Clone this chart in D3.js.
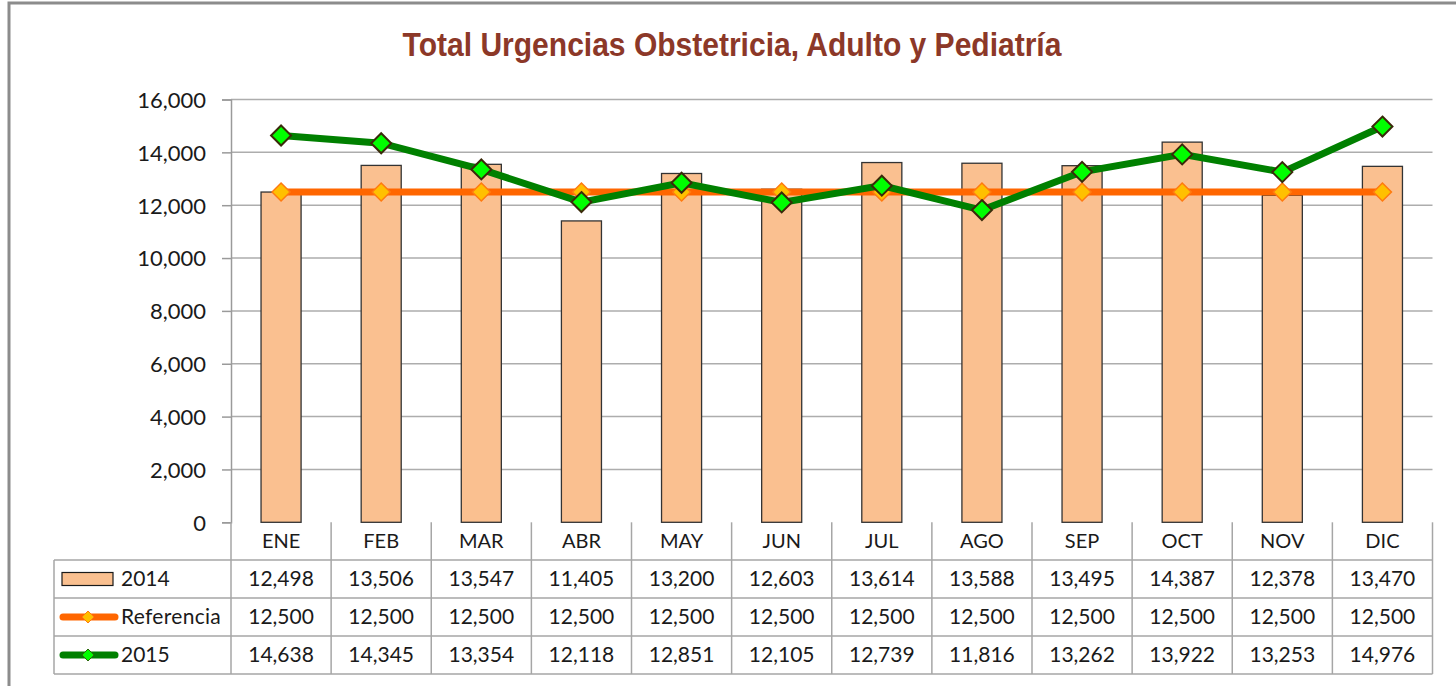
<!DOCTYPE html>
<html>
<head>
<meta charset="utf-8">
<script src="https://cdn.jsdelivr.net/npm/d3@7"></script>
<style>
  html, body { margin: 0; padding: 0; background: #fff; }
  svg { display: block; }
  text { font-family: Lato, "Open Sans", sans-serif; fill: #1a1a1a; }
</style>
</head>
<body>
<svg id="chart" width="1456" height="686"></svg>
<script>
const title = "Total Urgencias Obstetricia, Adulto y Pediatría";
const months = ["ENE","FEB","MAR","ABR","MAY","JUN","JUL","AGO","SEP","OCT","NOV","DIC"];
const values2014 = [12498,13506,13547,11405,13200,12603,13614,13588,13495,14387,12378,13470];
const valuesRef  = [12500,12500,12500,12500,12500,12500,12500,12500,12500,12500,12500,12500];
const values2015 = [14638,14345,13354,12118,12851,12105,12739,11816,13262,13922,13253,14976];
const yTicks = [0,2000,4000,6000,8000,10000,12000,14000,16000];
const seriesNames = ["2014","Referencia","2015"];

const svg = d3.select("#chart");
const fmt = d3.format(",");

const L = 231, R = 1432.5, T = 99.5, B = 522.3;
const x = d3.scaleBand().domain(months).range([L, R]).paddingInner(0).paddingOuter(0);
const y = d3.scaleLinear().domain([0, 16000]).range([B, T]);

// outer frame
svg.append("rect").attr("x", 9).attr("y", 3).attr("width", 1470).attr("height", 700)
  .attr("fill", "none").attr("stroke", "#8c8c8c").attr("stroke-width", 3);

// title (condensed bold)
const tt = svg.append("text").attr("x", 0).attr("y", 0).attr("text-anchor", "middle")
  .style("font-family", "'Liberation Sans', Arial, sans-serif")
  .style("font-weight", "bold").style("font-size", "34px").style("fill", "#8c3828")
  .text(title);
const tw = tt.node().getComputedTextLength();
const sx = 659 / tw;
tt.attr("transform", `translate(732,56) scale(${sx},1)`);

// gridlines
svg.append("g").selectAll("line").data(yTicks.filter(d => d > 0)).join("line")
  .attr("x1", L).attr("x2", R).attr("y1", d => y(d)).attr("y2", d => y(d))
  .attr("stroke", "#adadad").attr("stroke-width", 1.5);

// y axis
const yAxis = d3.axisLeft(y).tickValues(yTicks).tickFormat(fmt).tickSize(9).tickPadding(16);
const ga = svg.append("g").attr("transform", `translate(${L},0)`).call(yAxis);
ga.select(".domain").attr("stroke", "#9a9a9a").attr("stroke-width", 1.5);
ga.selectAll(".tick line").attr("stroke", "#9a9a9a").attr("stroke-width", 1.5);
ga.selectAll(".tick text").style("font-size", "22px").style("font-family", "Lato, sans-serif").attr("fill", "#1a1a1a").attr("dy", "0.36em");

// bars
const bw = x.bandwidth() * 0.4;
svg.append("g").selectAll("rect").data(values2014).join("rect")
  .attr("x", (d, i) => x(months[i]) + x.bandwidth() / 2 - bw / 2)
  .attr("y", d => y(d)).attr("width", bw).attr("height", d => y(0) - y(d))
  .attr("fill", "#fac090").attr("stroke", "#333333").attr("stroke-width", 1.3);

const cx = i => x(months[i]) + x.bandwidth() / 2;
const line = d3.line().x((d, i) => cx(i)).y(d => y(d));
const diamond = (s) => `M0,${-s}L${s},0L0,${s}L${-s},0Z`;

// reference
svg.append("path").datum(valuesRef).attr("d", line).attr("fill", "none")
  .attr("stroke", "#ff6600").attr("stroke-width", 7);
svg.append("g").selectAll("path").data(valuesRef).join("path")
  .attr("transform", (d, i) => `translate(${cx(i)},${y(d)})`).attr("d", diamond(9))
  .attr("fill", "#ffc000").attr("stroke", "#ff7a10").attr("stroke-width", 1.5);

// 2015
svg.append("path").datum(values2015).attr("d", line).attr("fill", "none")
  .attr("stroke", "#008000").attr("stroke-width", 7);
svg.append("g").selectAll("path").data(values2015).join("path")
  .attr("transform", (d, i) => `translate(${cx(i)},${y(d)})`).attr("d", diamond(10))
  .attr("fill", "#00ff00").attr("stroke", "#3a2a0a").attr("stroke-width", 2);

// data table
const rowY = [522.3, 560, 598, 636, 674];
const tL = 54;
const tg = svg.append("g");
const gridC = "#a6a6a6";
[1, 2, 3, 4].forEach(r => {
  tg.append("line").attr("x1", tL).attr("x2", R).attr("y1", rowY[r]).attr("y2", rowY[r]);
});
tg.append("line").attr("x1", tL).attr("x2", tL).attr("y1", rowY[1]).attr("y2", rowY[4]);
tg.selectAll("line.v").data(months.concat(["end"])).join("line").attr("class", "v")
  .attr("x1", (d, i) => L + i * x.bandwidth()).attr("x2", (d, i) => L + i * x.bandwidth())
  .attr("y1", rowY[0]).attr("y2", rowY[4]);
tg.selectAll("line").attr("stroke", gridC).attr("stroke-width", 1.5);

// header
svg.append("g").selectAll("text").data(months).join("text")
  .attr("x", d => x(d) + x.bandwidth() / 2).attr("y", (rowY[0] + rowY[1]) / 2 + 7)
  .attr("text-anchor", "middle").style("font-size", "20px").text(d => d);

const rows = [values2014, valuesRef, values2015];
rows.forEach((vals, r) => {
  svg.append("g").selectAll("text").data(vals).join("text")
    .attr("x", (d, i) => cx(i)).attr("y", (rowY[r + 1] + rowY[r + 2]) / 2 + 7)
    .attr("text-anchor", "middle").style("font-size", "21px").text(d => fmt(d));
});

// legend keys
const lg = svg.append("g");
const midY = r => (rowY[r + 1] + rowY[r + 2]) / 2;
lg.append("rect").attr("x", 62).attr("y", midY(0) - 6.5).attr("width", 51).attr("height", 13)
  .attr("fill", "#fac090").attr("stroke", "#1a1a1a").attr("stroke-width", 1.2);
lg.append("line").attr("x1", 63).attr("x2", 115).attr("y1", midY(1)).attr("y2", midY(1))
  .attr("stroke", "#ff6600").attr("stroke-width", 7).attr("stroke-linecap", "round");
lg.append("path").attr("transform", `translate(88,${midY(1)})`).attr("d", diamond(6))
  .attr("fill", "#ffc000").attr("stroke", "#ff7a10").attr("stroke-width", 1);
lg.append("line").attr("x1", 63).attr("x2", 115).attr("y1", midY(2)).attr("y2", midY(2))
  .attr("stroke", "#008000").attr("stroke-width", 7).attr("stroke-linecap", "round");
lg.append("path").attr("transform", `translate(88,${midY(2)})`).attr("d", diamond(6))
  .attr("fill", "#00ff00").attr("stroke", "#2a6a0a").attr("stroke-width", 1);
lg.selectAll("text").data(seriesNames).join("text")
  .attr("x", 121).attr("y", (d, r) => midY(r) + 7).style("font-size", "21px")
  .style("letter-spacing", (d) => d === "Referencia" ? "0.3px" : "0px")
  .text(d => d);
</script>
</body>
</html>
